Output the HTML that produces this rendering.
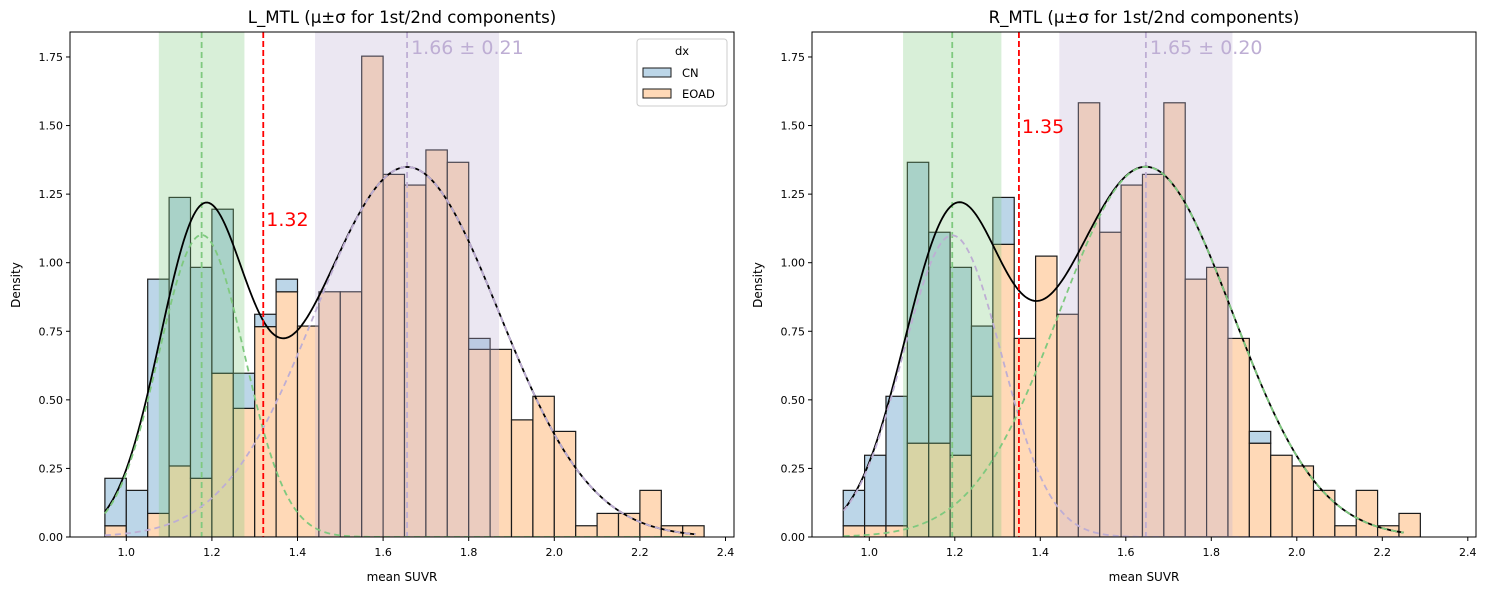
<!DOCTYPE html>
<html><head><meta charset="utf-8"><style>
body{margin:0;background:#fff;}
svg{display:block;font-family:"DejaVu Sans","Liberation Sans",sans-serif;}
</style></head><body>
<svg id="chart" width="1488" height="590" xmlns="http://www.w3.org/2000/svg"></svg>
<script>
// ----- data -----
const leftBinStart = 0.95, rightBinStart = 0.939, binWidth = 0.05;
const leftEOAD = [0.041,0,0.086,0.259,0.214,0.597,0.469,0.767,0.894,0.769,0.894,0.894,1.753,1.322,1.283,1.411,1.366,0.684,0.684,0.427,0.513,0.385,0.041,0.086,0.086,0.170,0.041,0.041];
const leftCN   = [0.173,0.170,0.854,0.979,0.769,0.598,0.128,0.045,0.046,0,0,0,0,0,0,0,0,0.040,0,0,0,0,0,0,0,0,0,0];
const rightEOAD= [0.041,0.041,0.041,0.342,0.342,0.298,0.513,1.067,0.724,1.024,0.812,1.583,1.111,1.283,1.322,1.583,0.940,0.983,0.724,0.342,0.298,0.259,0.170,0.041,0.170,0.041,0.086];
const rightCN  = [0.129,0.257,0.472,1.024,0.769,0.685,0.256,0.171,0,0,0,0,0,0,0,0,0,0,0,0.043,0,0,0,0,0,0,0];
const leftMeans = [1.176,1.656], leftSigmas=[0.10,0.215], leftWeights=[0.276,0.727];
const rightMeans = [1.194,1.647], rightSigmas=[0.115,0.2025], rightWeights=[0.317,0.685];
const leftThreshold = 1.32, rightThreshold = 1.35;
const xTicks = [1.0,1.2,1.4,1.6,1.8,2.0,2.2,2.4];
const yTicks = [0,0.25,0.5,0.75,1.0,1.25,1.5,1.75];

const NS="http://www.w3.org/2000/svg";
const svg=document.getElementById('chart');
function mk(tag,attrs,parent){const e=document.createElementNS(NS,tag);for(const k in attrs)e.setAttribute(k,attrs[k]);(parent||svg).appendChild(e);return e;}

function panel(cfg){
  const g=mk('g',{});
  
  
  const L=cfg.left,T=32,B=537;
  const X=v=>cfg.x1+(v-1.0)*cfg.scale;
  const Y=v=>B-v*274.3;
  const clipId='clip'+cfg.name;
  const cp=mk('clipPath',{id:clipId},g);mk('rect',{x:L,y:T,width:664,height:B-T},cp);
  const inner=mk('g',{'clip-path':'url(#'+clipId+')'},g);
  cfg.eoad.forEach((e,i)=>{
    const x0=X(cfg.binStart+i*binWidth), x1=X(cfg.binStart+(i+1)*binWidth);
    if(e>0){const r=mk('rect',{x:x0,y:Y(e),width:x1-x0,height:Y(0)-Y(e),fill:'#ffd9b7',stroke:'#1a1a1a','stroke-width':1.2},inner);
      
      }
    const c=cfg.cn[i];
    if(c>0){const r=mk('rect',{x:x0,y:Y(e+c),width:x1-x0,height:Y(e)-Y(e+c),fill:'#bcd6e8',stroke:'#1a1a1a','stroke-width':1.2},inner);
      
      }
  });
  const bandCols=['#7fc97f','#beaed4'];
  cfg.means.forEach((m,k)=>{
    const b=mk('rect',{x:X(m-cfg.sigmas[k]),y:T,width:X(m+cfg.sigmas[k])-X(m-cfg.sigmas[k]),height:B-T,fill:bandCols[k],'fill-opacity':0.3},inner);
    
    
  });
  cfg.means.forEach((m,k)=>{
    const l=mk('line',{x1:X(m),x2:X(m),y1:T,y2:B,stroke:bandCols[k],'stroke-width':1.8,'stroke-dasharray':'6,4'},inner);
    
    
  });
  const gauss=(x,k)=>cfg.weights[k]/(cfg.sigmas[k]*Math.sqrt(2*Math.PI))*Math.exp(-0.5*((x-cfg.means[k])/cfg.sigmas[k])**2);
  const N=300;let dsum='',d0='',d1='';
  for(let i=0;i<=N;i++){const x=cfg.cmin+(cfg.cmax-cfg.cmin)*i/N;const a=gauss(x,0),b=gauss(x,1);
    const p=(i?'L':'M');dsum+=p+X(x).toFixed(2)+','+Y(a+b).toFixed(2);d0+=p+X(x).toFixed(2)+','+Y(a).toFixed(2);d1+=p+X(x).toFixed(2)+','+Y(b).toFixed(2);}
  const s=mk('path',{d:dsum,fill:'none',stroke:'#000','stroke-width':1.8},inner);
  
  
  const c0=mk('path',{d:d0,fill:'none',stroke:cfg.curveCols[0],'stroke-width':1.8,'stroke-dasharray':'6,4'},inner);
  
  
  const c1=mk('path',{d:d1,fill:'none',stroke:cfg.curveCols[1],'stroke-width':1.8,'stroke-dasharray':'6,4'},inner);
  
  
  const th=mk('line',{x1:X(cfg.threshold),x2:X(cfg.threshold),y1:T,y2:B,stroke:'#ff0000','stroke-width':1.8,'stroke-dasharray':'6,3'},inner);
  
  
  const tt=mk('text',{x:X(cfg.threshold)+3,y:cfg.thLabelY,fill:'#ff0000','font-size':19},g);tt.textContent=cfg.threshold.toFixed(2);
  
  
  const mt=mk('text',{x:X(cfg.means[1])+4,y:54,fill:'#beaed4','font-size':19},g);mt.textContent=cfg.means[1].toFixed(2)+' ± '+cfg.sigmas[1].toFixed(2);
  
  
  const fr=mk('rect',{x:L,y:T,width:664,height:B-T,fill:'none',stroke:'#000','stroke-width':1},g);
  
  
  xTicks.forEach(t=>{mk('line',{x1:X(t),x2:X(t),y1:B,y2:B+4,stroke:'#000'},g);
    const tx=mk('text',{x:X(t),y:B+19,'text-anchor':'middle','font-size':11,fill:'#000'},g);tx.textContent=t.toFixed(1);
    
    });
  yTicks.forEach(t=>{mk('line',{x1:L-4,x2:L,y1:Y(t),y2:Y(t),stroke:'#000'},g);
    const tx=mk('text',{x:L-7,y:Y(t)+4,'text-anchor':'end','font-size':11,fill:'#000'},g);tx.textContent=t.toFixed(2);
    
    });
  const ti=mk('text',{x:L+332,y:23,'text-anchor':'middle','font-size':16.6,fill:'#000'},g);ti.textContent=cfg.title;
  
  
  const xl=mk('text',{x:L+332,y:581,'text-anchor':'middle','font-size':12,fill:'#000'},g);xl.textContent='mean SUVR';
  
  
  const yl=mk('text',{x:0,y:0,transform:'translate('+(L-50)+',285) rotate(-90)','text-anchor':'middle','font-size':12,fill:'#000'},g);yl.textContent='Density';
  
  
}
panel({name:'left-panel',left:70,x1:126.3,scale:428,binStart:leftBinStart,eoad:leftEOAD,cn:leftCN,means:leftMeans,sigmas:leftSigmas,weights:leftWeights,
  cmin:0.95,cmax:2.33,curveCols:['#7fc97f','#beaed4'],threshold:leftThreshold,thLabelY:226,title:'L_MTL (μ±σ for 1st/2nd components)'});
panel({name:'right-panel',left:812,x1:869.3,scale:427.5,binStart:rightBinStart,eoad:rightEOAD,cn:rightCN,means:rightMeans,sigmas:rightSigmas,weights:rightWeights,
  cmin:0.94,cmax:2.25,curveCols:['#beaed4','#7fc97f'],threshold:rightThreshold,thLabelY:133,title:'R_MTL (μ±σ for 1st/2nd components)'});
const lg=mk('g',{});


mk('rect',{x:637,y:39,width:90,height:67,rx:3,fill:'#fff','fill-opacity':0.8,stroke:'#ccc'},lg);
const lt=mk('text',{x:682,y:55,'text-anchor':'middle','font-size':11.5},lg);lt.textContent='dx';
const e1=mk('g',{},lg);


mk('rect',{x:643,y:68,width:28,height:9,fill:'#bcd6e8',stroke:'#1a1a1a'},e1);
const t1=mk('text',{x:682,y:77,'font-size':11.5},e1);t1.textContent='CN';
const e2=mk('g',{},lg);


mk('rect',{x:643,y:89,width:28,height:9,fill:'#ffd9b7',stroke:'#1a1a1a'},e2);
const t2=mk('text',{x:682,y:98,'font-size':11.5},e2);t2.textContent='EOAD';
</script>
</body></html>
